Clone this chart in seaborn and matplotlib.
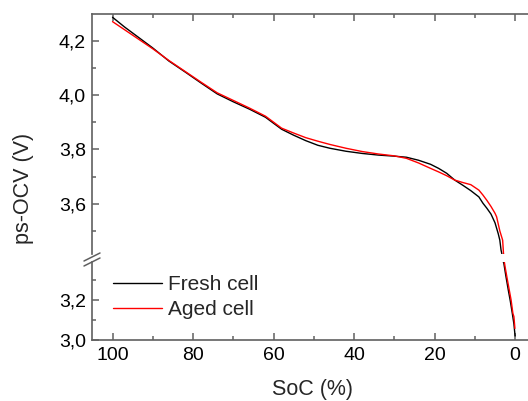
import matplotlib
matplotlib.use("Agg")
import matplotlib.pyplot as plt
import seaborn as sns
import pandas as pd
from matplotlib.lines import Line2D
from matplotlib.ticker import MultipleLocator

# ---- data ----
soc_fresh = [100, 97, 94, 90, 86, 82, 78, 74, 70, 66, 62, 58, 55, 52, 49, 46, 42, 38, 34, 30,
             27, 24, 21, 19, 17, 15, 13, 11, 9, 8, 7, 6, 5, 4.2, 3.8, 3.5, 3.0, 2.8, 2.3, 1.7,
             1.2, 0.7, 0.3, 0.07, 0]
v_fresh = [4.286, 4.250, 4.217, 4.173, 4.125, 4.085, 4.044, 4.004, 3.975, 3.948, 3.918, 3.874,
           3.852, 3.832, 3.815, 3.804, 3.793, 3.785, 3.779, 3.775, 3.771, 3.760, 3.745, 3.730,
           3.712, 3.687, 3.668, 3.648, 3.625, 3.602, 3.583, 3.562, 3.530, 3.490, 3.466, 3.430,
           3.395, 3.383, 3.320, 3.250, 3.195, 3.133, 3.080, 3.033, 3.020]

soc_aged = [100, 97, 94, 90, 86, 82, 78, 74, 70, 66, 62, 58, 55, 52, 49, 46, 42, 38, 34, 30,
            27, 24, 21, 19, 17, 15, 13, 11, 9, 8, 7, 6, 5, 4.6, 3.8, 3.1, 2.9, 2.5, 2.0, 1.3,
            1.0, 0.55, 0.3, 0.05]
v_aged = [4.270, 4.240, 4.210, 4.170, 4.127, 4.087, 4.047, 4.008, 3.980, 3.952, 3.922, 3.878,
          3.860, 3.843, 3.830, 3.818, 3.804, 3.792, 3.783, 3.776, 3.767, 3.750, 3.730, 3.717,
          3.703, 3.687, 3.678, 3.670, 3.650, 3.632, 3.612, 3.590, 3.565, 3.552, 3.500, 3.466,
          3.420, 3.367, 3.310, 3.233, 3.200, 3.133, 3.117, 3.058]

series_names = ["Fresh cell", "Aged cell"]
series_colors = ["#000000", "#ff0000"]

x_ticks = [100, 80, 60, 40, 20, 0]
x_ticklabels = ["100", "80", "60", "40", "20", "0"]
y_ticks_upper = [3.6, 3.8, 4.0, 4.2]
y_ticklabels_upper = ["3,6", "3,8", "4,0", "4,2"]
y_ticks_lower = [3.0, 3.2]
y_ticklabels_lower = ["3,0", "3,2"]

df = pd.concat([
    pd.DataFrame({"SoC": soc_fresh, "V": v_fresh, "cell": series_names[0]}),
    pd.DataFrame({"SoC": soc_aged, "V": v_aged, "cell": series_names[1]}),
], ignore_index=True)

sns.set_style("ticks")
plt.rcParams["font.family"] = ["Liberation Sans", "DejaVu Sans"]

W, H = 528, 401
fig = plt.figure(figsize=(W / 100, H / 100), dpi=100)

def fx(px):
    return px / W

def fy(py):
    return 1 - py / H

ax_up = fig.add_axes([fx(92), fy(254), fx(528 - 92), fy(14) - fy(254)])
ax_lo = fig.add_axes([fx(92), fy(340), fx(528 - 92), fy(262) - fy(340)], sharex=ax_up)

palette = dict(zip(series_names, series_colors))
for ax in (ax_up, ax_lo):
    sns.lineplot(data=df, x="SoC", y="V", hue="cell", palette=palette, ax=ax,
                 sort=False, estimator=None, linewidth=1.0, legend=False)
    ax.set_xlabel("")
    ax.set_ylabel("")

spine_col = "#606060"
ax_up.set_xlim(105.1, -3.2)
ax_up.set_ylim(3.415, 4.298)
ax_lo.set_ylim(3.0, 3.39)

for ax in (ax_up, ax_lo):
    ax.spines["right"].set_visible(False)
    ax.spines["left"].set_color(spine_col)
    ax.spines["left"].set_linewidth(1.2)
    ax.patch.set_alpha(0)

ax_up.spines["bottom"].set_visible(False)
ax_up.spines["top"].set_color(spine_col)
ax_up.spines["top"].set_linewidth(1.2)
ax_lo.spines["top"].set_visible(False)
ax_lo.spines["bottom"].set_color(spine_col)
ax_lo.spines["bottom"].set_linewidth(1.2)

# upper axes ticks
ax_up.set_yticks(y_ticks_upper)
ax_up.set_yticklabels(y_ticklabels_upper)
ax_up.yaxis.set_minor_locator(MultipleLocator(0.1))
ax_up.set_xticks(x_ticks)
ax_up.xaxis.set_minor_locator(MultipleLocator(10))
ax_up.tick_params(axis="x", which="both", bottom=False, top=True, labelbottom=False,
                  labeltop=False, direction="in", color=spine_col)
ax_up.tick_params(axis="y", which="both", left=True, right=False, direction="in",
                  color=spine_col)

# lower axes ticks
ax_lo.set_yticks(y_ticks_lower)
ax_lo.set_yticklabels(y_ticklabels_lower)
ax_lo.yaxis.set_minor_locator(MultipleLocator(0.1))
ax_lo.set_xticks(x_ticks)
ax_lo.set_xticklabels(x_ticklabels)
ax_lo.tick_params(axis="x", which="both", bottom=True, top=False, direction="in",
                  color=spine_col)
ax_lo.tick_params(axis="y", which="both", left=True, right=False, direction="in",
                  color=spine_col)

for ax in (ax_up, ax_lo):
    ax.tick_params(which="major", length=5, width=1.1, labelsize=14, labelcolor="black")
    ax.tick_params(which="minor", length=3, width=1.1)
    ax.tick_params(axis="y", which="major", pad=4.5)
    ax.tick_params(axis="x", which="major", pad=5)

# axis break marks
for dy in (0, 5):
    fig.add_artist(Line2D([fx(84), fx(100)], [fy(261 + dy), fy(253 + dy)],
                          transform=fig.transFigure, color=spine_col, lw=1.1))

# labels
fig.text(fx(24), fy(188), "ps-OCV (V)", rotation=90, ha="center", va="center", fontsize=15.5)
fig.text(fx(313), fy(390), "SoC (%)", ha="center", va="center", fontsize=15.5)

handles = [Line2D([0], [0], color=c, lw=1.0) for c in series_colors]
fig.legend(handles, series_names, loc="center left",
           bbox_to_anchor=(fx(112.7), fy(297)), bbox_transform=fig.transFigure,
           frameon=False, fontsize=15, handlelength=2.35, handletextpad=0.3,
           labelspacing=0.3, borderpad=0, borderaxespad=0)

fig.savefig("out.png", dpi=100)
